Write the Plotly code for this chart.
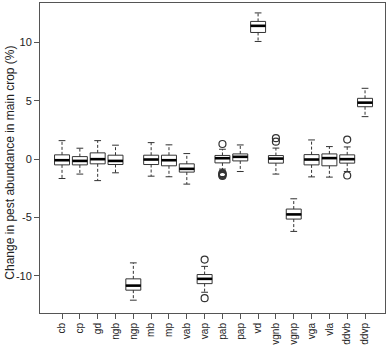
import plotly.graph_objects as go

categories = ["cb", "cp", "gd", "ngb", "ngp", "mb", "mp", "vab", "vap",
              "pab", "pap", "vd", "vgnb", "vgnp", "vga", "vla", "ddvb", "ddvp"]
upper_whisker = [1.59, 0.94, 1.59, 1.20, -8.90, 1.42, 1.23, 0.48, -9.20,
                 0.85, 1.22, 12.55, 0.95, -3.40, 1.65, 1.08, 1.05, 6.08]
q3_vals = [0.37, 0.22, 0.54, 0.34, -10.27, 0.34, 0.34, -0.40, -9.90,
           0.32, 0.45, 11.82, 0.31, -4.28, 0.39, 0.45, 0.37, 5.22]
medians = [-0.09, -0.15, 0.00, -0.15, -10.85, -0.03, -0.09, -0.83, -10.27,
           0.08, 0.20, 11.44, 0.05, -4.74, -0.03, 0.09, 0.00, 4.85]
q1_vals = [-0.49, -0.49, -0.40, -0.46, -11.24, -0.46, -0.57, -1.11, -10.68,
           -0.32, -0.15, 10.87, -0.34, -5.14, -0.49, -0.57, -0.34, 4.50]
lower_whisker = [-1.66, -1.28, -1.84, -1.17, -12.10, -1.46, -1.51, -2.14, -11.42,
                 -0.85, -1.06, 10.10, -1.28, -6.20, -1.52, -1.54, -1.06, 3.65]
outlier_cats = ["vap", "vap", "pab", "pab", "pab", "pab", "pab", "pab",
                "vgnb", "vgnb", "ddvb", "ddvb"]
outlier_vals = [-8.62, -11.93, 1.30, -1.20, -1.26, -1.32, -1.38, -1.44,
                1.80, 1.50, 1.68, -1.40]
y_ticks = [-10, -5, 0, 5, 10]
y_ticktext = ["-10", "-5", "0", "5", "10"]

LINE = "#333333"
FONT = "Liberation Sans, Arial, sans-serif"
BOXW = 0.84
CAPW = 0.19

xs = list(range(1, len(categories) + 1))
pos = {c: i + 1 for i, c in enumerate(categories)}

fig = go.Figure()

# dashed whiskers
wx, wy = [], []
for x, lw, q1, q3, uw in zip(xs, lower_whisker, q1_vals, q3_vals, upper_whisker):
    wx += [x, x, None, x, x, None]
    wy += [q3, uw, None, q1, lw, None]
fig.add_trace(go.Scatter(x=wx, y=wy, mode="lines",
                         line=dict(color=LINE, width=1, dash="3px,2px"),
                         hoverinfo="skip"))

# caps
cx, cy = [], []
for x, lw, uw in zip(xs, lower_whisker, upper_whisker):
    cx += [x - CAPW, x + CAPW, None, x - CAPW, x + CAPW, None]
    cy += [uw, uw, None, lw, lw, None]
fig.add_trace(go.Scatter(x=cx, y=cy, mode="lines",
                         line=dict(color=LINE, width=1), hoverinfo="skip"))

# boxes
fig.add_trace(go.Box(x=xs, q1=q1_vals, median=medians, q3=q3_vals,
                     lowerfence=q1_vals, upperfence=q3_vals,
                     width=BOXW, whiskerwidth=0, boxpoints=False,
                     fillcolor="white", line=dict(color=LINE, width=1)))

# thick medians
mx, my = [], []
for x, m in zip(xs, medians):
    mx += [x - BOXW / 2, x + BOXW / 2, None]
    my += [m, m, None]
fig.add_trace(go.Scatter(x=mx, y=my, mode="lines",
                         line=dict(color="black", width=2.6), hoverinfo="skip"))

# outliers
fig.add_trace(go.Scatter(x=[pos[c] for c in outlier_cats], y=outlier_vals,
                         mode="markers",
                         marker=dict(symbol="circle-open", size=7,
                                     color=LINE, line=dict(width=1.2))))

axis_common = dict(showline=True, mirror=True, linecolor="#555555", linewidth=1,
                   ticks="outside", ticklen=5, tickcolor="#555555",
                   showgrid=False, zeroline=False, automargin=False)

fig.update_layout(
    width=388, height=347,
    margin=dict(l=40, r=3, t=3, b=34),
    paper_bgcolor="white", plot_bgcolor="white",
    showlegend=False,
    font=dict(family=FONT, color="#222222"),
    xaxis=dict(range=[-0.236, 19.12], tickvals=xs, ticktext=categories,
               tickangle=-90, tickfont=dict(size=10, color="#222222"), **axis_common),
    yaxis=dict(range=[-13.2, 13.4], tickvals=y_ticks, ticktext=y_ticktext,
               tickfont=dict(size=11, color="#222222"), **axis_common),
    annotations=[dict(text="Change in pest abundance in main crop (%)",
                      xref="paper", yref="paper", x=0, y=0.485,
                      xshift=-30, textangle=-90, showarrow=False,
                      xanchor="center", yanchor="middle",
                      font=dict(size=12, family=FONT, color="#222222"))],
)

fig.write_html("out.html",
               config={"displayModeBar": False},
               post_script="document.body.style.margin='0';document.body.style.overflow='hidden';")
